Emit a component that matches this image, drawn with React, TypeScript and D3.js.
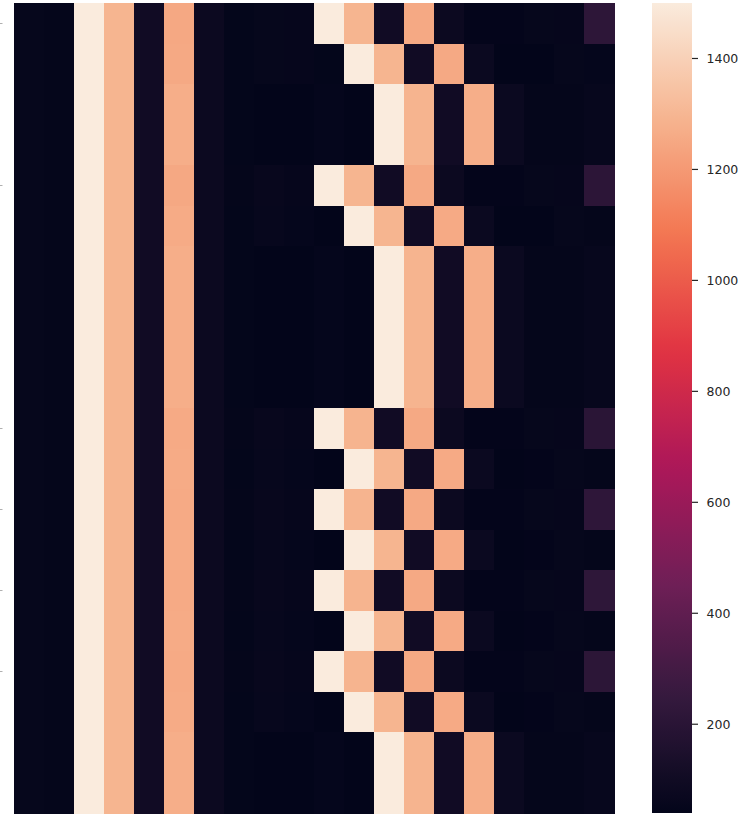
import React from "react";
import * as d3 from "d3";

// 20 x 20 matrix of values
const row0 = [55, 48, 1500, 1295, 102, 1252, 80, 45, 55, 52, 1500, 1295, 102, 1255, 78, 44, 44, 55, 52, 215];
const row1 = [55, 48, 1500, 1295, 102, 1255, 80, 45, 55, 52, 46, 1500, 1295, 102, 1255, 76, 40, 41, 55, 50];
const row2 = [55, 48, 1500, 1295, 102, 1270, 80, 45, 40, 40, 50, 40, 1500, 1292, 100, 1270, 76, 48, 48, 58];
const row3 = [55, 48, 1500, 1295, 102, 1270, 80, 45, 40, 40, 50, 40, 1500, 1292, 100, 1270, 76, 48, 48, 58];
const row4 = [55, 48, 1500, 1295, 102, 1252, 80, 48, 62, 52, 1500, 1295, 102, 1255, 78, 44, 44, 55, 52, 210];
const row5 = [55, 48, 1500, 1295, 102, 1262, 80, 45, 58, 50, 42, 1500, 1295, 102, 1258, 76, 40, 41, 55, 48];
const row6 = [55, 48, 1500, 1295, 102, 1270, 80, 45, 40, 40, 50, 40, 1500, 1292, 100, 1272, 76, 48, 48, 56];
const row7 = [55, 48, 1500, 1295, 102, 1270, 80, 45, 40, 40, 50, 40, 1500, 1292, 100, 1272, 76, 48, 48, 56];
const row8 = [55, 48, 1500, 1295, 102, 1270, 80, 45, 40, 40, 50, 40, 1500, 1292, 100, 1272, 76, 48, 48, 56];
const row9 = [55, 48, 1500, 1295, 102, 1270, 80, 45, 40, 40, 50, 40, 1500, 1292, 100, 1272, 76, 48, 48, 56];
const row10 = [55, 48, 1500, 1295, 102, 1258, 80, 48, 60, 52, 1500, 1292, 102, 1255, 78, 44, 44, 55, 52, 205];
const row11 = [55, 48, 1500, 1295, 102, 1262, 80, 45, 58, 50, 42, 1500, 1295, 102, 1258, 76, 40, 44, 55, 48];
const row12 = [55, 48, 1500, 1295, 102, 1258, 80, 48, 60, 52, 1500, 1292, 102, 1255, 78, 44, 44, 55, 52, 220];
const row13 = [55, 48, 1500, 1295, 102, 1262, 80, 45, 58, 50, 42, 1500, 1295, 102, 1258, 76, 40, 44, 55, 48];
const row14 = [55, 48, 1500, 1295, 102, 1258, 80, 48, 60, 52, 1500, 1292, 102, 1255, 78, 44, 44, 55, 52, 222];
const row15 = [55, 48, 1500, 1295, 102, 1262, 80, 45, 58, 50, 42, 1500, 1295, 102, 1258, 76, 40, 44, 55, 48];
const row16 = [55, 48, 1500, 1295, 102, 1258, 80, 48, 60, 52, 1500, 1292, 102, 1255, 78, 44, 44, 55, 52, 212];
const row17 = [55, 48, 1500, 1295, 102, 1262, 80, 45, 58, 50, 42, 1500, 1295, 102, 1258, 76, 40, 44, 55, 48];
const row18 = [55, 48, 1500, 1295, 102, 1270, 80, 45, 40, 40, 50, 40, 1500, 1292, 100, 1272, 76, 48, 48, 56];
const row19 = [55, 48, 1500, 1295, 102, 1270, 80, 45, 40, 40, 50, 40, 1500, 1292, 100, 1272, 76, 48, 48, 56];

const matrix = [row0, row1, row2, row3, row4, row5, row6, row7, row8, row9, row10, row11, row12, row13, row14, row15, row16, row17, row18, row19];

const rowIds = matrix.map((_, i) => i);
const colIds = row0.map((_, j) => j);
// rows that carry a (label-less) tick mark on the left edge
const tickedRows = [0, 4, 10, 12, 14, 16];
const colorbarTicks = [200, 400, 600, 800, 1000, 1200, 1400];

// seaborn "rocket" colormap anchors
const rocketStops: [number, string][] = [
  [0, "#03051a"],
  [0.039, "#100b23"],
  [0.143, "#35193e"],
  [0.286, "#701f57"],
  [0.429, "#ad1759"],
  [0.571, "#e13342"],
  [0.714, "#f37651"],
  [0.857, "#f6b48f"],
  [1, "#faebdd"],
];

const W = 750;
const H = 826;
const left = 14;
const right = 614;
const top = 3;
const bottom = 813;
const cbX = 652;
const cbW = 40;

export default function App() {
  const flat = matrix.flat();
  const vmin = d3.min(flat) as number;
  const vmax = d3.max(flat) as number;

  const rocket = d3
    .scaleLinear<string>()
    .domain(rocketStops.map((s) => s[0]))
    .range(rocketStops.map((s) => s[1]))
    .interpolate(d3.interpolateRgb)
    .clamp(true);
  const norm = d3.scaleLinear().domain([vmin, vmax]).range([0, 1]).clamp(true);
  const color = (v: number) => rocket(norm(v));

  const x = d3.scaleBand<number>().domain(colIds).range([left, right]).padding(0);
  const y = d3.scaleBand<number>().domain(rowIds).range([top, bottom]).padding(0);
  const cbY = d3.scaleLinear().domain([vmin, vmax]).range([bottom, top]);

  const gradStops = d3.range(0, 1.0001, 0.02);

  return (
    <div style={{ position: "absolute", left: 0, top: 0, width: W, height: H, background: "#fff" }}>
      <svg width={W} height={H} style={{ display: "block" }} fontFamily="'DejaVu Sans', sans-serif">
        <defs>
          <linearGradient id="cbgrad" x1="0" y1="1" x2="0" y2="0">
            {gradStops.map((t) => (
              <stop key={t} offset={t} stopColor={rocket(t)} />
            ))}
          </linearGradient>
        </defs>
        <g shapeRendering="crispEdges">
          {matrix.map((row, i) =>
            row.map((v, j) => (
              <rect
                key={`${i}-${j}`}
                x={x(j)}
                y={y(i)}
                width={x.bandwidth() + 0.5}
                height={y.bandwidth() + 0.5}
                fill={color(v)}
              />
            ))
          )}
        </g>
        {tickedRows.map((r) => {
          const yy = Math.round((y(r) as number) + y.bandwidth() / 2) + 0.5;
          return <line key={r} x1={0} x2={2.5} y1={yy} y2={yy} stroke="#b0b0b0" strokeWidth={1} />;
        })}
        <rect x={cbX} y={top} width={cbW} height={bottom - top} fill="url(#cbgrad)" />
        {colorbarTicks.map((t) => {
          const yy = cbY(t);
          return (
            <g key={t}>
              <line x1={cbX + cbW} x2={cbX + cbW + 6} y1={yy} y2={yy} stroke="#262626" strokeWidth={1.2} />
              <text x={cbX + cbW + 14.5} y={yy} dy="0.35em" fontSize={12.5} fill="#262626">
                {t}
              </text>
            </g>
          );
        })}
      </svg>
    </div>
  );
}
